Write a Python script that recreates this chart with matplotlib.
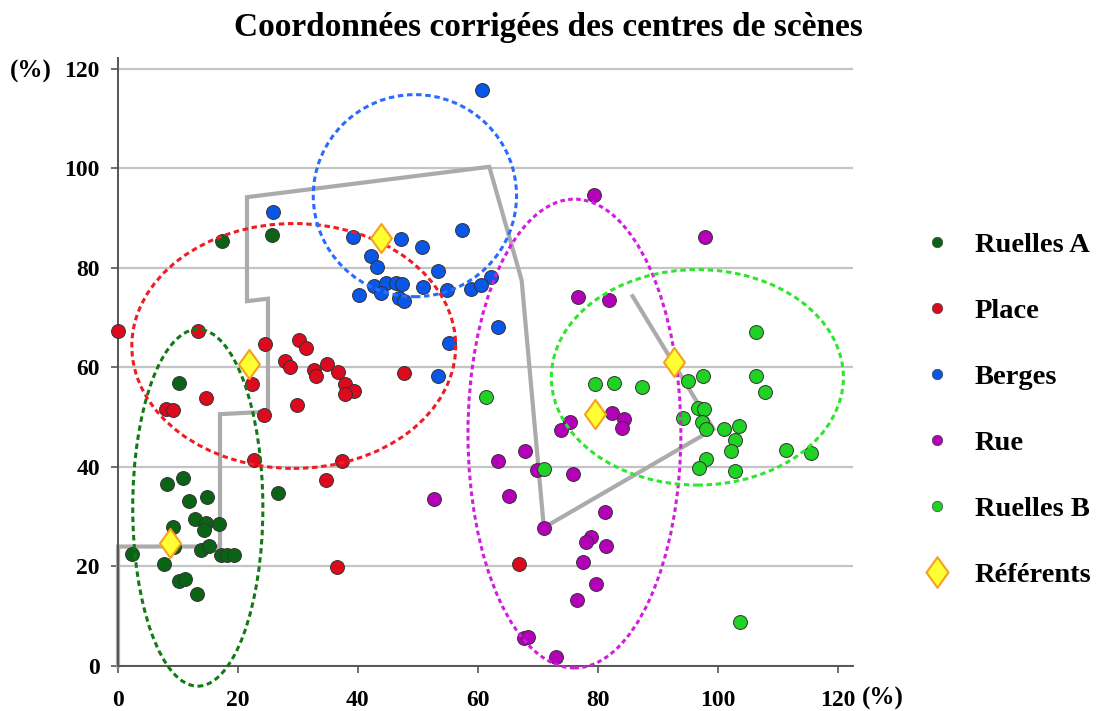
import numpy as np
import matplotlib
matplotlib.use("Agg")
import matplotlib.pyplot as plt
from matplotlib.patches import Ellipse
from matplotlib.lines import Line2D
from matplotlib.path import Path

plt.rcParams["font.family"] = ["Liberation Serif", "DejaVu Serif"]
plt.rcParams["font.weight"] = "bold"

# scene centres (x %, y %) per group
ruelles_a_x = [10.2, 10.8, 8.1, 11.9, 14.8, 12.8, 14.7, 14.3, 16.9, 9.2, 9.4, 2.3,
               13.9, 15.2, 17.1, 18.2, 19.3, 7.7, 10.2, 11.2, 13.1, 26.7, 17.4, 25.6]
ruelles_a_y = [56.8, 37.8, 36.6, 33.1, 33.9, 29.5, 28.7, 27.3, 28.5, 28.0, 24.0, 22.6,
               23.3, 24.1, 22.4, 22.4, 22.4, 20.4, 17.1, 17.4, 14.5, 34.8, 85.3, 86.5]

place_x = [0.0, 13.4, 24.5, 30.2, 31.4, 27.8, 28.6, 32.7, 33.0, 34.9, 36.6, 37.9, 39.4,
           37.8, 47.6, 22.3, 29.9, 24.3, 14.6, 8.0, 9.1, 22.7, 37.3, 34.7, 36.5, 66.8]
place_y = [67.3, 67.3, 64.6, 65.5, 63.9, 61.3, 60.0, 59.4, 58.2, 60.6, 59.0, 56.6, 55.2,
           54.6, 58.8, 56.6, 52.4, 50.5, 53.8, 51.7, 51.5, 41.4, 41.2, 37.3, 19.9, 20.4]

berges_x = [60.7, 57.4, 39.1, 47.2, 50.7, 42.1, 43.2, 53.4, 62.2, 42.7, 44.7, 46.3, 47.4,
            50.9, 54.9, 58.8, 60.5, 40.2, 43.9, 46.8, 47.6, 63.4, 55.2, 53.4, 25.9]
berges_y = [115.7, 87.7, 86.1, 85.7, 84.2, 82.4, 80.2, 79.3, 78.2, 76.3, 77.0, 77.0, 76.8,
            76.2, 75.6, 75.8, 76.6, 74.5, 75.0, 74.0, 73.3, 68.1, 64.8, 58.3, 91.2]

rue_x = [79.4, 97.8, 76.7, 81.8, 75.3, 73.8, 82.3, 84.4, 84.1, 67.9, 63.3, 69.9, 75.9,
         52.7, 65.2, 71.0, 81.2, 78.8, 78.1, 81.3, 77.6, 79.7, 76.6, 67.7, 68.4, 73.0]
rue_y = [94.7, 86.2, 74.2, 73.6, 49.1, 47.4, 50.9, 49.6, 47.9, 43.2, 41.2, 39.4, 38.5,
         33.5, 34.1, 27.8, 31.0, 26.0, 24.9, 24.1, 20.9, 16.5, 13.3, 5.6, 5.9, 1.9]

ruelles_b_x = [106.3, 97.6, 106.3, 95.1, 107.8, 96.7, 97.7, 94.2, 97.3, 98.1, 101.1, 103.6,
               102.9, 102.2, 111.3, 115.6, 98.1, 96.9, 102.8, 103.7, 79.6, 82.7, 87.4, 61.3, 71.0]
ruelles_b_y = [67.1, 58.2, 58.2, 57.3, 55.1, 51.9, 51.7, 49.9, 49.1, 47.7, 47.6, 48.2,
               45.4, 43.2, 43.4, 42.7, 41.5, 39.7, 39.2, 8.9, 56.6, 56.8, 56.1, 54.0, 39.6]

ref_x = [8.7, 21.8, 43.8, 79.5, 92.7]
ref_y = [24.8, 60.6, 85.9, 50.7, 61.1]

# zone boundary (grey polyline)
bound_x = [0, 0, 17.0, 17.0, 25.0, 25.0, 21.5, 21.5, 61.9, 67.3, 71.0, 99.3, 85.8]
bound_y = [0, 24.0, 24.0, 50.6, 51.1, 73.8, 73.3, 94.2, 100.3, 77.5, 27.8, 47.6, 74.3]

# dispersion ellipses: centre x, centre y, width, height
ell_cx = [13.3, 29.3, 49.5, 76.1, 96.6]
ell_cy = [31.8, 64.3, 94.5, 46.7, 58.0]
ell_w = [21.7, 54.0, 33.9, 35.5, 48.7]
ell_h = [71.7, 49.2, 40.6, 94.2, 43.3]

labels = ["Ruelles A", "Place", "Berges", "Rue", "Ruelles B"]
dot_colors = ["#0b6416", "#dc0a1c", "#0a56e6", "#b400b8", "#1fd224"]
ell_colors = ["#137a13", "#f01c24", "#2a6cff", "#d11ede", "#2fe62f"]

groups = [(ruelles_a_x, ruelles_a_y), (place_x, place_y), (berges_x, berges_y),
          (rue_x, rue_y), (ruelles_b_x, ruelles_b_y)]

diamond = Path([(0, 1), (0.72, 0), (0, -1), (-0.72, 0), (0, 1)],
               [Path.MOVETO, Path.LINETO, Path.LINETO, Path.LINETO, Path.CLOSEPOLY])

fig = plt.figure(figsize=(10.96, 7.11), dpi=100)
ax = fig.add_axes([0.1077, 0.0633, 0.6703, 0.8547])
ax.set_xlim(0, 122.5)
ax.set_ylim(0, 122.1)

ax.set_yticks(np.arange(0, 121, 20))
ax.set_xticks(np.arange(0, 121, 20))
ax.yaxis.grid(True, color="#c4c4c4", lw=1.6)
ax.set_axisbelow(True)
for s in ["top", "right"]:
    ax.spines[s].set_visible(False)
for s in ["left", "bottom"]:
    ax.spines[s].set_color("#555555")
    ax.spines[s].set_linewidth(1.4)
ax.tick_params(axis="both", colors="#555555", length=5, width=1.2, labelsize=17,
               labelcolor="black")
ax.tick_params(axis="y", pad=8)
ax.tick_params(axis="x", pad=12)
for lab in ax.get_xticklabels() + ax.get_yticklabels():
    lab.set_fontweight("bold")

ax.plot(bound_x, bound_y, color="#ababab", lw=3, zorder=2, clip_on=False,
        solid_joinstyle="miter")

for (gx, gy), c in zip(groups, dot_colors):
    ax.scatter(gx, gy, s=100, color=c, edgecolor="#333333", linewidth=0.7, zorder=3,
               clip_on=False)

for cx, cy, w, h, c in zip(ell_cx, ell_cy, ell_w, ell_h, ell_colors):
    ls = (0, (1.5, 1.1)) if c == "#d11ede" else (0, (1.8, 1.2))
    ax.add_patch(Ellipse((cx, cy), w, h, fill=False, edgecolor=c, lw=2.2,
                         linestyle=ls, zorder=4, clip_on=False))

ax.scatter(ref_x, ref_y, s=440, marker=diamond, color="#ffff33", edgecolor="#f5a020",
           linewidth=1.5, zorder=5, clip_on=False)

fig.text(0.5, 0.961, "Coordonnées corrigées des centres de scènes", ha="center",
         va="center", fontsize=24, fontweight="bold")
fig.text(0.009, 0.90, "(%)", ha="left", va="center", fontsize=18, fontweight="bold")
fig.text(0.786, 0.017, "(%)", ha="left", va="center", fontsize=18, fontweight="bold")

handles = [Line2D([], [], ls="none", marker="o", markersize=7.5, markerfacecolor=c,
                  markeredgecolor="#444444", markeredgewidth=0.5) for c in dot_colors]
handles.append(Line2D([], [], ls="none", marker=diamond, markersize=22,
                      markerfacecolor="#ffff33", markeredgecolor="#f5a020",
                      markeredgewidth=1.5))
fig.legend(handles, labels + ["Référents"], loc="center left",
           bbox_to_anchor=(0.816, 0.423), frameon=False, labelspacing=1.41,
           handletextpad=0.72, handlelength=1.2,
           prop={"family": "Liberation Serif", "weight": "bold", "size": 20.5})

fig.savefig("out.png", dpi=100)
